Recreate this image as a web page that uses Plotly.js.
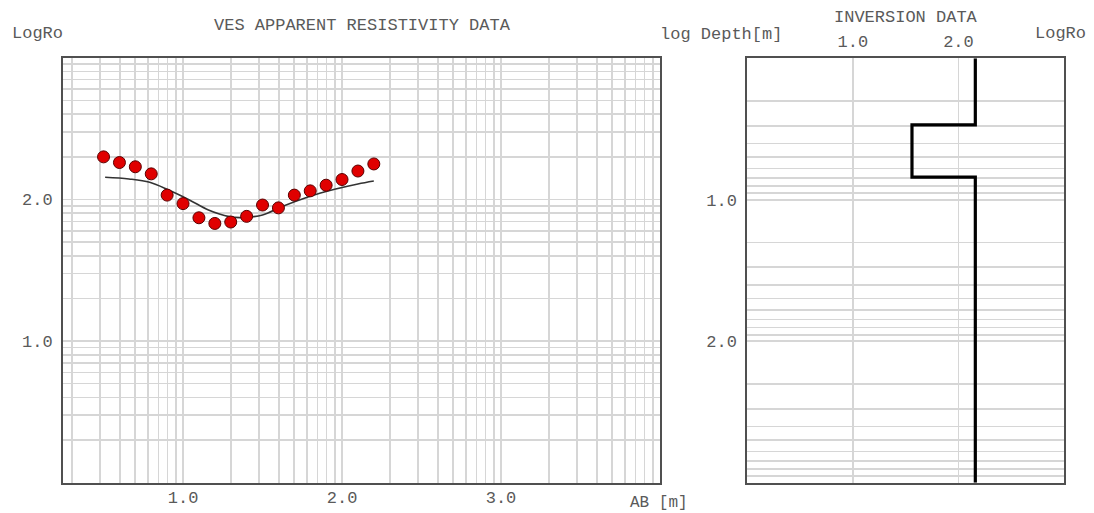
<!DOCTYPE html>
<html>
<head>
<meta charset="utf-8">
<script src="https://cdn.plot.ly/plotly-3.0.1.min.js"></script>
<style>
html,body{margin:0;padding:0;background:#fff;}
#chart{width:1094px;height:513px;}
</style>
</head>
<body>
<div id="chart"></div>
<script>
// ---- VES apparent resistivity data (log10 AB, log10 rho_a) ----
var abLog = [0.5,0.6,0.7,0.8,0.9,1.0,1.1,1.2,1.3,1.4,1.5,1.6,1.7,1.8,1.9,2.0,2.1,2.2];
var rhoObs = [2.30,2.26,2.23,2.18,2.03,1.97,1.87,1.83,1.84,1.88,1.96,1.94,2.03,2.06,2.10,2.14,2.20,2.25];
// ---- model (calculated) curve ----
var abCalc = [0.51,0.66,0.79,0.91,1.04,1.16,1.29,1.37,1.50,1.62,1.79,1.96,2.10,2.20];
var rhoCalc = [2.156,2.144,2.121,2.066,1.996,1.925,1.878,1.871,1.890,1.948,2.019,2.073,2.109,2.130];
// ---- inversion model: layer log resistivities and log depths of layer bottoms ----
var layerRho = [2.16, 1.56, 2.16];
var layerBottom = [0.47, 0.84];
var depthMax = 3.0;
// ---- tick labels ----
var leftXTicks = [1, 2, 3];
var leftXLabels = ['1.0', '2.0', '3.0'];
var leftYTicks = [1, 2];
var leftYLabels = ['1.0', '2.0'];
var rightXTicks = [1, 2];
var rightXLabels = ['1.0', '2.0'];
var rightYTicks = [1, 2];
var rightYLabels = ['1.0', '2.0'];

// log-style grid positions (decades with minor digits)
function logGrid(lo, hi, labelVals, labelTxt) {
  var vals = [], txt = [];
  for (var d = Math.floor(lo); d <= Math.ceil(hi); d++) {
    for (var k = 1; k <= 9; k++) {
      var v = d + Math.log10(k);
      if (v >= lo - 1e-9 && v <= hi + 1e-9) {
        vals.push(v);
        var idx = -1;
        for (var i = 0; i < labelVals.length; i++) if (Math.abs(labelVals[i] - v) < 1e-9) idx = i;
        txt.push(idx >= 0 ? labelTxt[idx] : '');
      }
    }
  }
  return {vals: vals, txt: txt};
}

// step line for inversion model
var stepX = [], stepY = [];
(function () {
  var layerTop = 0;
  for (var i = 0; i < layerRho.length; i++) {
    var bot = i < layerBottom.length ? layerBottom[i] : depthMax;
    stepX.push(layerRho[i], layerRho[i]);
    stepY.push(layerTop, bot);
    layerTop = bot;
  }
})();

var W = 1094, H = 513;
var fam = 'Courier New, Nimbus Mono PS, Nimbus Mono L, FreeMono, Courier, Liberation Mono, monospace';
var font = {family: fam, size: 17, color: '#5a5a5a'};
var gridC = '#d6d6d6';
var frameC = '#505050';

var lx = logGrid(0.245, 4.0, leftXTicks, leftXLabels);
var ly = logGrid(0, 3, leftYTicks, leftYLabels);
var ry = logGrid(0, 3, rightYTicks, rightYLabels);

var traces = [
  {x: abCalc, y: rhoCalc, mode: 'lines', type: 'scatter', xaxis: 'x', yaxis: 'y',
   line: {color: '#333333', width: 1.6, shape: 'spline', smoothing: 1}, hoverinfo: 'skip'},
  {x: abLog, y: rhoObs, mode: 'markers', type: 'scatter', xaxis: 'x', yaxis: 'y',
   marker: {size: 12, color: '#e00000', line: {color: '#5a0000', width: 1}}},
  {x: stepX, y: stepY, mode: 'lines', type: 'scatter', xaxis: 'x2', yaxis: 'y2',
   line: {color: '#000000', width: 3.2}}
];

function px(x) { return x / W; }
function py(y) { return 1 - y / H; }
function ann(text, x, y, size) {
  var f = {family: fam, size: size || 17, color: '#5a5a5a'};
  return {text: text, x: px(x), y: py(y), xref: 'paper', yref: 'paper',
          xanchor: 'center', yanchor: 'middle', showarrow: false, font: f};
}

var layout = {
  width: W, height: H,
  margin: {l: 0, r: 0, t: 0, b: 0},
  paper_bgcolor: '#ffffff', plot_bgcolor: '#ffffff',
  showlegend: false,
  font: font,
  xaxis: {
    domain: [px(63), px(660)], range: [0.245, 4.0], anchor: 'y',
    tickmode: 'array', tickvals: lx.vals, ticktext: lx.txt,
    showgrid: true, gridcolor: gridC, gridwidth: 1.6, zeroline: false,
    showline: true, linecolor: frameC, linewidth: 2, mirror: true,
    ticks: '', ticklabelstandoff: -2, tickfont: font
  },
  yaxis: {
    domain: [py(482.7), py(57.7)], range: [0, 3], anchor: 'x',
    tickmode: 'array', tickvals: ly.vals, ticktext: ly.txt,
    showgrid: true, gridcolor: gridC, gridwidth: 1.6, zeroline: false,
    showline: true, linecolor: frameC, linewidth: 2, mirror: true,
    ticks: '', ticklabelstandoff: 5, tickfont: font
  },
  xaxis2: {
    domain: [px(747.3), px(1064)], range: [0, 3], anchor: 'y2', side: 'top',
    tickmode: 'array', tickvals: rightXTicks, ticktext: rightXLabels,
    showgrid: true, gridcolor: gridC, gridwidth: 1.6, zeroline: false,
    showline: true, linecolor: frameC, linewidth: 2, mirror: true,
    ticks: '', ticklabelstandoff: 3, tickfont: font
  },
  yaxis2: {
    domain: [py(482.7), py(58.3)], range: [3, 0], anchor: 'x2',
    tickmode: 'array', tickvals: ry.vals, ticktext: ry.txt,
    showgrid: true, gridcolor: gridC, gridwidth: 1.6, zeroline: false,
    showline: true, linecolor: frameC, linewidth: 2, mirror: true,
    ticks: '', ticklabelstandoff: 5, tickfont: font
  },
  annotations: [
    ann('VES APPARENT RESISTIVITY DATA', 362, 25),
    ann('LogRo', 37, 33),
    ann('AB [m]', 659, 503, 16),
    ann('log Depth[m]', 721, 34),
    ann('INVERSION DATA', 906, 17),
    ann('LogRo', 1060, 33)
  ]
};

Plotly.newPlot('chart', traces, layout, {displayModeBar: false, staticPlot: true});
</script>
</body>
</html>
